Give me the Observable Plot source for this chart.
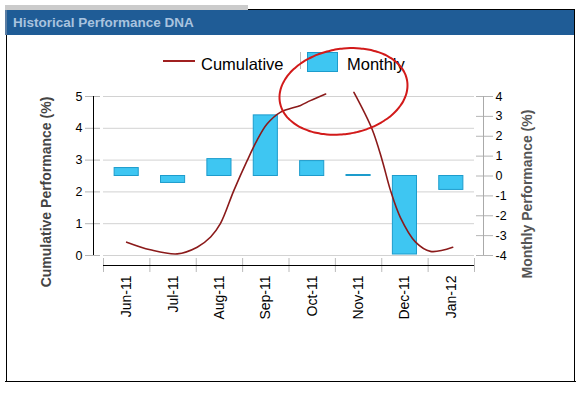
<!DOCTYPE html>
<html><head><meta charset="utf-8">
<script src="https://cdn.jsdelivr.net/npm/d3@7"></script>
<script src="https://cdn.jsdelivr.net/npm/@observablehq/plot@0.6"></script>
<style>
body{margin:0;background:#fff;font-family:"Liberation Sans",Arial,sans-serif;}
#wrap{position:relative;width:580px;height:395px;overflow:hidden;background:#fff;}
.abs{position:absolute;}
#chart svg{position:absolute;left:0;top:0;}
</style></head><body>
<div id="wrap">
  <div class="abs" style="left:5px;top:5px;width:243px;height:5px;background:#cbcbcb"></div>
  <div class="abs" style="left:248px;top:9px;width:327px;height:1px;background:#000"></div>
  <div class="abs" style="left:5px;top:10px;width:570px;height:25px;background:#1f5c96"></div>
  <div class="abs" style="left:5px;top:10px;width:2px;height:25px;background:#5a7da3"></div>
  <div class="abs" id="title" style="left:13px;top:14px;font-weight:bold;font-size:13.5px;line-height:17px;color:#a9c3df;white-space:nowrap">Historical Performance DNA</div>
  <div class="abs" style="left:6px;top:35px;width:1px;height:347px;background:#000"></div>
  <div class="abs" style="left:574px;top:9px;width:1px;height:373px;background:#000"></div>
  <div class="abs" style="left:5px;top:381px;width:571px;height:1px;background:#000"></div>

  <div class="abs" style="left:163px;top:60px;width:32px;height:2px;background:#a02020"></div>
  <div class="abs" id="legCum" style="left:201px;top:55px;font-size:16.5px;line-height:18px;white-space:nowrap">Cumulative</div>
  <div class="abs" style="left:300px;top:52px;width:1px;height:17px;background:#bbb"></div>
  <div class="abs" style="left:307px;top:52px;width:31px;height:20px;background:#3ec6f2;border:1px solid #1d9ccc;box-sizing:border-box"></div>
  <div class="abs" id="legMon" style="left:347px;top:55px;font-size:16.5px;line-height:18px;white-space:nowrap">Monthly</div>

  <div class="abs" style="left:46px;top:192px;transform:translate(-50%,-50%) rotate(-90deg);font-weight:bold;font-size:14px;white-space:nowrap;color:#444">Cumulative Performance (%)</div>
  <div class="abs" style="left:527px;top:194px;transform:translate(-50%,-50%) rotate(-90deg);font-weight:bold;font-size:14px;white-space:nowrap;color:#555">Monthly Performance (%)</div>
  <div id="chart"></div>
</div>
<script>
const months = ["Jun-11","Jul-11","Aug-11","Sep-11","Oct-11","Nov-11","Dec-11","Jan-12"];
const monthly = [0.4, -0.35, 0.85, 3.05, 0.75, 0.05, -3.95, -0.7];
// cumulative hand-drawn curve read at positions along the month axis (month index)
const cumX = [0, 0.51, 1.09, 1.52, 1.81, 2.02, 2.31, 2.6, 2.81, 3.03, 3.32, 3.75, 3.96, 4.29, 4.6, 4.9, 5.29, 5.51, 5.69, 5.9, 6.23, 6.55, 7.03];
const cumY = [0.42, 0.18, 0.05, 0.26, 0.58, 1.0, 2.04, 2.99, 3.62, 4.14, 4.51, 4.72, 4.87, 5.08, null, 5.13, 3.98, 2.99, 2.04, 1.2, 0.42, 0.13, 0.26];
const leftTicks = [0, 1, 2, 3, 4, 5];
const rightTicks = [-4, -3, -2, -1, 0, 1, 2, 3, 4];
const annotation = {cx: 4.675, cy: 5.16, rx: 1.38, ry: 1.35, tilt: 0.19};

const toLeft = v => (v + 4) * 5 / 8;
const fromLeft = y => Math.round(y * 8 / 5 - 4);
const idx = months.map((m, i) => i);
const bounds = [...idx.map(i => i - 0.5), months.length - 0.5];
const cum = cumX.map((x, i) => ({x, y: cumY[i]}));
const ell = d3.range(0, 2 * Math.PI, Math.PI / 60).map(t => ({
  x: annotation.cx + annotation.rx * Math.cos(t),
  y: annotation.cy + annotation.ry * Math.sin(t) + annotation.tilt * Math.cos(t)
}));

const chart = Plot.plot({
  width: 580, height: 395,
  marginTop: 96, marginBottom: 140, marginLeft: 103, marginRight: 106,
  style: {background: "transparent", fontFamily: "Liberation Sans, Arial, sans-serif", fontSize: "12.5px", color: "#000", overflow: "visible"},
  x: {domain: [-0.5, 7.5], axis: null},
  y: {domain: [0, 5], axis: null},
  marks: [
    Plot.gridY(leftTicks, {stroke: "#d2d2d2", strokeOpacity: 1}),
    Plot.rectY(idx, {x1: i => i - 0.26, x2: i => i + 0.26, y1: () => toLeft(0), y2: i => toLeft(monthly[i]), fill: "#3ec6f2", stroke: "#1d9ccc", strokeWidth: 1}),
    Plot.line(cum, {x: "x", y: "y", stroke: "#8b1a1a", strokeWidth: 1.6, curve: "catmull-rom"}),
    Plot.axisY(leftTicks, {anchor: "left", label: null, tickSize: 15, dx: -3, tickPadding: 3, stroke: "#b5b5b5", fontSize: 12.5}),
    Plot.ruleX([-0.5], {y1: 0, y2: 5, dx: -10, stroke: "#000"}),
    Plot.axisY(rightTicks.map(toLeft), {anchor: "right", label: null, tickSize: 17, dx: 1, tickPadding: 3, tickFormat: fromLeft, stroke: "#b5b5b5", fontSize: 12.5}),
    Plot.ruleX([7.5], {y1: 0, y2: 5, dx: 9, stroke: "#aaa"}),
    Plot.axisX(bounds, {anchor: "bottom", label: null, tickSize: 14, dy: 3, tickFormat: () => "", stroke: "#bbb"}),
    Plot.ruleY([0], {x1: -0.5, x2: 7.5, dy: 10, stroke: "#000"}),
    Plot.axisX(idx, {anchor: "bottom", label: null, tickSize: 0, tickRotate: -90, tickPadding: 20, tickFormat: i => months[i], fontSize: 14}),
    Plot.line(ell, {x: "x", y: "y", stroke: "#d21a1a", strokeWidth: 2, curve: "catmull-rom-closed"})
  ]
});
document.getElementById("chart").appendChild(chart);
</script>
</body></html>
